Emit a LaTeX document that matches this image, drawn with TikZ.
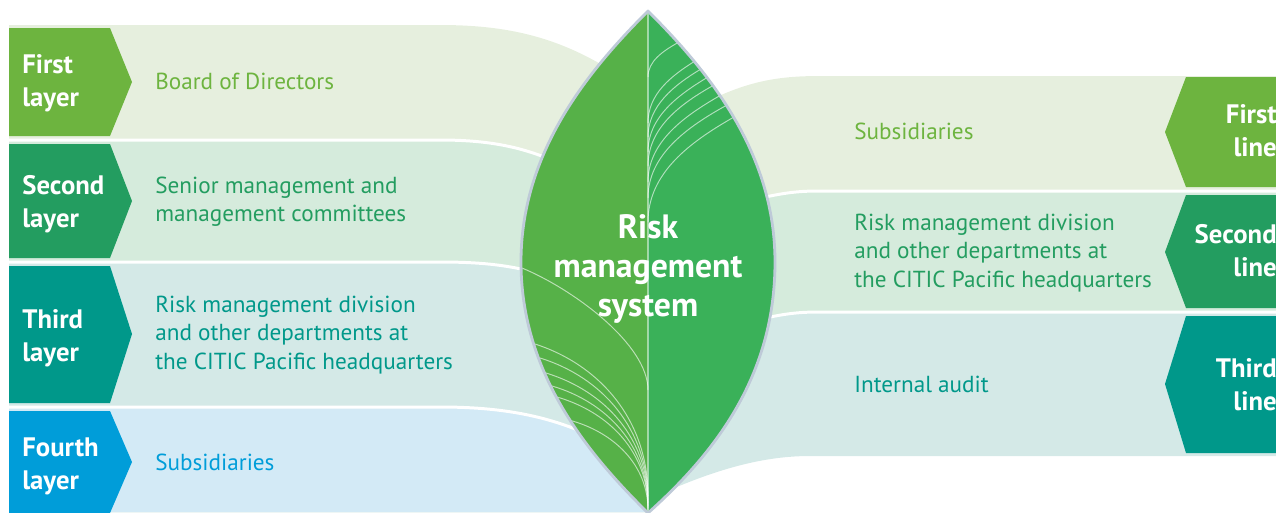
\documentclass[tikz,border=0pt]{standalone}
\usepackage{fontspec}
\setmainfont{PT Sans}
\definecolor{lyrone}{RGB}{109,180,63}
\definecolor{lyrtwo}{RGB}{35,157,96}
\definecolor{lyrthree}{RGB}{0,152,138}
\definecolor{lyrfour}{RGB}{0,157,217}
\definecolor{bandone}{RGB}{230,239,222}
\definecolor{bandtwo}{RGB}{213,235,220}
\definecolor{bandthree}{RGB}{212,233,231}
\definecolor{bandfour}{RGB}{211,234,246}
\definecolor{leafleft}{RGB}{86,177,72}
\definecolor{leafright}{RGB}{58,177,89}
\definecolor{leafedge}{RGB}{190,202,216}

\begin{document}
\begin{tikzpicture}[x=0.02cm,y=-0.02cm,
  layer/.style={font=\fontsize{15.2}{18.8}\selectfont\bfseries,text=white,align=left,anchor=west,inner sep=0pt},
  linetag/.style={layer,align=right,anchor=east},
  desc/.style={font=\fontsize{13.2}{16}\selectfont,align=left,anchor=west,inner sep=0pt},
  sepline/.style={white,line width=1.7pt},
  vein/.style={white,opacity=0.6,line width=0.55pt}]
 \useasboundingbox (0,0) rectangle (1276,512);
 \clip (0,0) rectangle (1276,512);
 \fill[bandone] (9,25) -- (440,25) .. controls (520,25) and (575,42) .. (640,90) -- (648,512) -- (9,512) -- cycle;
 \fill[bandtwo] (9,140) -- (440,140) .. controls (505,140) and (545,152) .. (600,185) -- (648,512) -- (9,512) -- cycle;
 \fill[bandthree] (9,262) -- (440,262) .. controls (480,262) and (505,265) .. (530,271) -- (648,512) -- (9,512) -- cycle;
 \fill[bandfour] (9,407) -- (440,407) .. controls (500,407) and (550,415) .. (600,440) -- (648,512) -- (9,512) -- cycle;
 \draw[sepline] (9,140) -- (440,140) .. controls (505,140) and (545,152) .. (600,185);
 \draw[sepline] (9,262) -- (440,262) .. controls (480,262) and (505,265) .. (530,271);
 \draw[sepline] (9,407) -- (440,407) .. controls (500,407) and (550,415) .. (600,440);
 \fill[bandone] (1276,76) -- (820,76) .. controls (775,76) and (745,82) .. (700,105) -- (700,420) -- (1276,420) -- cycle;
 \fill[bandtwo] (1276,191) -- (820,191) .. controls (795,191) and (780,193) .. (740,203) -- (700,220) -- (700,420) -- (1276,420) -- cycle;
 \fill[bandthree] (1276,312) -- (820,312) .. controls (795,312) and (780,314) .. (740,324) -- (665,340) -- (665,492) .. controls (720,468) and (765,456) .. (810,456) -- (1276,456) -- cycle;
 \draw[sepline] (1276,191) -- (820,191) .. controls (795,191) and (780,193) .. (740,203);
 \draw[sepline] (1276,312) -- (820,312) .. controls (795,312) and (780,314) .. (740,324);
 \fill[lyrone] (9,28) -- (110,28) -- (132,82) -- (110,136) -- (9,136) -- cycle;
 \fill[lyrtwo] (9,144) -- (110,144) -- (132,201) -- (110,258) -- (9,258) -- cycle;
 \fill[lyrthree] (9,266) -- (110,266) -- (132,334) -- (110,403) -- (9,403) -- cycle;
 \fill[lyrfour] (9,411) -- (110,411) -- (132,462) -- (110,513) -- (9,513) -- cycle;
 \fill[lyrone] (1276,77) -- (1186,77) -- (1165,132) -- (1186,187) -- (1276,187) -- cycle;
 \fill[lyrtwo] (1276,195) -- (1186,195) -- (1165,252) -- (1186,308) -- (1276,308) -- cycle;
 \fill[lyrthree] (1276,316) -- (1186,316) -- (1165,384) -- (1186,453) -- (1276,453) -- cycle;
 \fill[leafleft] (648,11) .. controls (588,71) and (521,152) .. (521,262) .. controls (521,372) and (586,452) .. (648,513) -- cycle;
 \fill[leafright] (648,11) .. controls (708,71) and (775,152) .. (775,262) .. controls (775,375) and (716,452) .. (648,513) -- cycle;
 \draw[vein] (648,77) .. controls (648,61) and (663,51) .. (679,42);
 \draw[vein] (648,123) .. controls (648,94) and (671,76) .. (695,61);
 \draw[vein] (648,137) .. controls (648,106) and (674,85) .. (701,69);
 \draw[vein] (648,152) .. controls (648,117) and (678,95) .. (708,77);
 \draw[vein] (648,166) .. controls (648,128) and (680,104) .. (714,85);
 \draw[vein] (648,182) .. controls (648,142) and (684,116) .. (721,95);
 \draw[vein] (648,198) .. controls (648,155) and (687,127) .. (727,105);
 \draw[vein] (648,222) .. controls (648,173) and (690,142) .. (734,117);
 \draw[vein] (522,268) .. controls (575,290) and (648,345) .. (648,390);
 \draw[vein] (535,344) .. controls (600,365) and (648,420) .. (648,496);
 \draw[vein] (540,358) .. controls (602,377) and (648,429) .. (648,500);
 \draw[vein] (546,373) .. controls (605,391) and (648,438) .. (648,503);
 \draw[vein] (552,386) .. controls (607,402) and (648,446) .. (648,506);
 \draw[vein] (557,397) .. controls (609,412) and (648,452) .. (648,508);
 \draw[vein] (569,420) .. controls (614,432) and (648,465) .. (648,510);
 \draw[white,opacity=0.5,line width=0.8pt] (648,11) -- (648,513);
 \draw[leafedge,line width=1.6pt,line join=round] (648,11) .. controls (708,71) and (775,152) .. (775,262) .. controls (775,375) and (716,452) .. (648,513) .. controls (586,452) and (521,372) .. (521,262) .. controls (521,152) and (588,71) .. (648,11) -- cycle;
 \node[font=\fontsize{19.2}{22}\selectfont\bfseries,text=white,align=center] (rms) at (648,269) {Risk\\management\\system};
 \node[layer] (first) at (22,83) {First\\layer};
 \node[layer] (second) at (22,204) {Second\\layer};
 \node[layer] (third) at (22,338) {Third\\layer};
 \node[layer] (fourth) at (22,466) {Fourth\\layer};
 \node[linetag] (firstln) at (1277,131) {First\\line};
 \node[linetag] (secondln) at (1277,251) {Second\\line};
 \node[linetag] (thirdln) at (1277,385) {Third\\line};
 \node[desc,text=lyrone] (board) at (155,81) {Board of Directors};
 \node[desc,text=lyrtwo] (senior) at (155,202) {Senior management and\\management committees};
 \node[desc,text=lyrthree] (riskdiv) at (155,335) {Risk management division\\and other departments at\\the CITIC Pacific headquarters};
 \node[desc,text=lyrfour] (subsid) at (155,462) {Subsidiaries};
 \node[desc,text=lyrone] (subsidr) at (854,131) {Subsidiaries};
 \node[desc,text=lyrtwo] (riskdivr) at (854,253) {Risk management division\\and other departments at\\the CITIC Pacific headquarters};
 \node[desc,text=lyrthree] (audit) at (854,384) {Internal audit};
\end{tikzpicture}
\end{document}
